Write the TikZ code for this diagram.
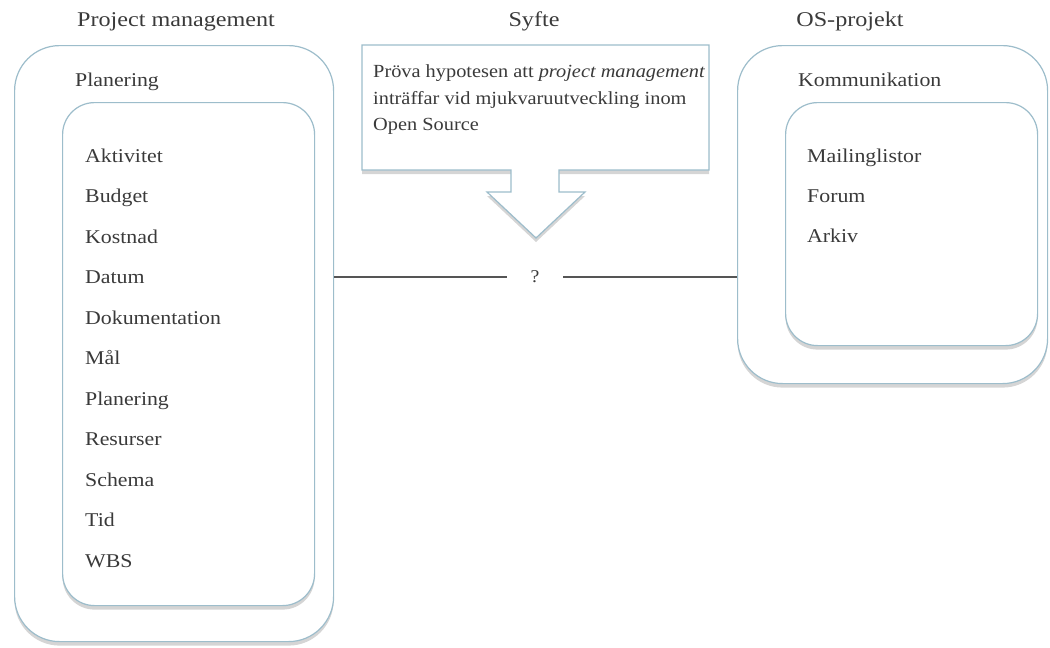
\documentclass[tikz,border=0pt]{standalone}
\usepackage{fontspec}
\setmainfont{Liberation Serif}
\newfontfamily\gfont{Liberation Serif}[FakeStretch=1.12]
\newfontfamily\tfont{Liberation Serif}[FakeStretch=1.15]
\newfontfamily\cfont{Liberation Serif}[FakeStretch=1.1]
\usetikzlibrary{shadows,calc}
\definecolor{edge}{HTML}{9DBDCB}
\definecolor{ink}{HTML}{3A3A3A}
\definecolor{linec}{HTML}{555555}
\tikzset{
  shade/.style={drop shadow={shadow xshift=0pt, shadow yshift=-4pt, opacity=0.3, fill=gray!90!black}},
  rbox/.style={draw=edge, line width=1.2pt, fill=white, rounded corners=#1, inner sep=0pt, anchor=north west, shade},
  title/.style={font=\tfont\fontsize{21}{24}\selectfont, text=ink, anchor=base, inner sep=0pt},
  item/.style={font=\gfont\fontsize{19.5}{22}\selectfont, text=ink, anchor=base west, inner sep=0pt},
  cline/.style={font=\cfont\fontsize{18.5}{22}\selectfont, text=ink, anchor=base west, inner sep=0pt},
  conn/.style={draw=linec, line width=1.3pt},
}
\begin{document}
\begin{tikzpicture}[x=1pt,y=-1pt]
\useasboundingbox (0,0) rectangle (1050,648);
% titles
\node[title] (t1) at (176,26) {Project management};
\node[title] (t2) at (534,26) {Syfte};
\node[title] (t3) at (850,26) {OS-projekt};
% left boxes
\node[rbox=45pt, minimum width=319pt, minimum height=596pt] (pm) at (14,45) {};
\node[item] (plan) at (75,86) {Planering};
\node[rbox=32pt, minimum width=252pt, minimum height=503pt] (pin) at (62,102) {};
\foreach \t [count=\i] in {Aktivitet,Budget,Kostnad,Datum,Dokumentation,Mål,Planering,Resurser,Schema,Tid,WBS}{
  \node[item] (li\i) at (85,{162+40.5*(\i-1)}) {\t};
}
% right boxes
\node[rbox=45pt, minimum width=310pt, minimum height=338pt] (os) at (737,45) {};
\node[item] (komm) at (798,86) {Kommunikation};
\node[rbox=32pt, minimum width=252pt, minimum height=243pt] (oin) at (785,102) {};
\node[item] (ri1) at (807,162) {Mailinglistor};
\node[item] (ri2) at (807,202) {Forum};
\node[item] (ri3) at (807,242) {Arkiv};
% callout
\path[draw=edge, line width=1.2pt, fill=white, shade]
  (362,45) -- (709,45) -- (709,170) -- (559,170) -- (559,192) -- (585,192) -- (536,238) -- (487,192) -- (511,192) -- (511,170) -- (362,170) -- cycle;
\node[cline] (sy1) at (373,77) {Pröva hypotesen att \textit{project management}};
\node[cline] (sy2) at (373,104) {inträffar vid mjukvaruutveckling inom};
\node[cline] (sy3) at (373,130) {Open Source};
% question
\node[text=ink, font=\cfont\fontsize{18}{20}\selectfont, inner sep=0pt, minimum width=56pt, minimum height=16pt] (q) at (535,277) {?};
\draw[conn] (pm.east |- q) -- (q.west);
\draw[conn] (q.east) -- (os.west |- q);
\end{tikzpicture}
\end{document}
